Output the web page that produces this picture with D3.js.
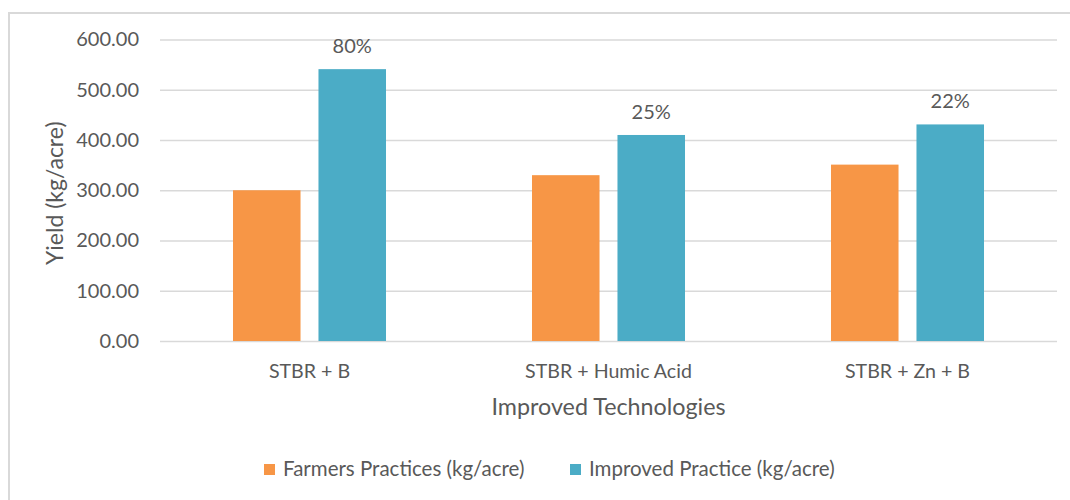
<!DOCTYPE html>
<html>
<head>
<meta charset="utf-8">
<script src="https://cdn.jsdelivr.net/npm/d3@7"></script>
<style>
  html, body { margin: 0; padding: 0; background: #fff; }
  svg { display: block; }
  text { font-family: Lato, "Open Sans", sans-serif; fill: #595959; }
</style>
</head>
<body>
<svg id="chart" width="1070" height="500"></svg>
<script>
const categories = ["STBR + B", "STBR + Humic Acid", "STBR + Zn + B"];
const seriesNames = ["Farmers Practices (kg/acre)", "Improved Practice (kg/acre)"];
const farmers = [300, 330, 351];
const improved = [541, 410, 431];
const increaseLabels = ["80%", "25%", "22%"];
const yTicks = [0, 100, 200, 300, 400, 500, 600];
const colors = ["#F79646", "#4BACC6"];

const svg = d3.select("#chart");

// chart border
svg.append("rect").attr("x", 9).attr("y", 13).attr("width", 1070).attr("height", 500)
  .attr("fill", "#fff").attr("stroke", "#d9d9d9").attr("stroke-width", 2);

const plot = { left: 160, right: 1057, top: 39.5, bottom: 341 };

const y = d3.scaleLinear().domain([0, 600]).range([plot.bottom, plot.top]);
const x0 = d3.scaleBand().domain(categories).range([plot.left, plot.right]);
const x1 = d3.scaleBand().domain(seriesNames).range([0, x0.bandwidth()]).paddingInner(0.21).paddingOuter(0.854);

// gridlines
const yAxis = d3.axisLeft(y).tickValues(yTicks).tickSize(-(plot.right - plot.left)).tickFormat(d3.format(".2f")).tickPadding(21);
const gy = svg.append("g").attr("transform", `translate(${plot.left},0)`).call(yAxis);
gy.select(".domain").remove();
gy.selectAll(".tick line").attr("stroke", "#d9d9d9").attr("stroke-width", 1.5);
gy.selectAll(".tick text").attr("font-size", 20).attr("fill", "#595959").style("font-family", "Lato, sans-serif");

// bars
const data = categories.map((c, i) => ({ cat: c, vals: [farmers[i], improved[i]], label: increaseLabels[i] }));
const groups = svg.append("g").selectAll("g").data(data).join("g")
  .attr("transform", d => `translate(${x0(d.cat)},0)`);
groups.selectAll("rect").data(d => d.vals.map((v, j) => ({ v, s: seriesNames[j], j })))
  .join("rect")
  .attr("x", d => x1(d.s))
  .attr("width", x1.bandwidth())
  .attr("y", d => y(d.v))
  .attr("height", d => y(0) - y(d.v))
  .attr("fill", d => colors[d.j]);

// percent labels above improved bars
groups.append("text")
  .attr("x", x1(seriesNames[1]) + x1.bandwidth() / 2)
  .attr("y", d => y(d.vals[1]) - 16)
  .attr("text-anchor", "middle")
  .attr("font-size", 20)
  .text(d => d.label);

// x axis labels
const xAxis = d3.axisBottom(x0).tickSize(0).tickPadding(0);
const gx = svg.append("g").attr("transform", `translate(0,${plot.bottom})`).call(xAxis);
gx.select(".domain").remove();
gx.selectAll(".tick text").attr("font-size", 19.6).attr("fill", "#595959")
  .style("font-family", "Lato, sans-serif").attr("dy", null).attr("y", 37);

// axis titles
svg.append("text").attr("x", (plot.left + plot.right) / 2).attr("y", 415)
  .attr("text-anchor", "middle").attr("font-size", 23.3).text("Improved Technologies");
svg.append("text").attr("transform", `translate(63,${(plot.top + plot.bottom) / 2 + 3}) rotate(-90)`)
  .attr("text-anchor", "middle").attr("font-size", 23).text("Yield (kg/acre)");

// legend
const legendItems = [{ x: 264, name: seriesNames[0], c: colors[0] }, { x: 570, name: seriesNames[1], c: colors[1] }];
const lg = svg.append("g").selectAll("g").data(legendItems).join("g")
  .attr("transform", d => `translate(${d.x},0)`);
lg.append("rect").attr("x", 0).attr("y", 464).attr("width", 11).attr("height", 11).attr("fill", d => d.c);
lg.append("text").attr("x", 19).attr("y", 476).attr("font-size", 20.5).text(d => d.name);
</script>
</body>
</html>
